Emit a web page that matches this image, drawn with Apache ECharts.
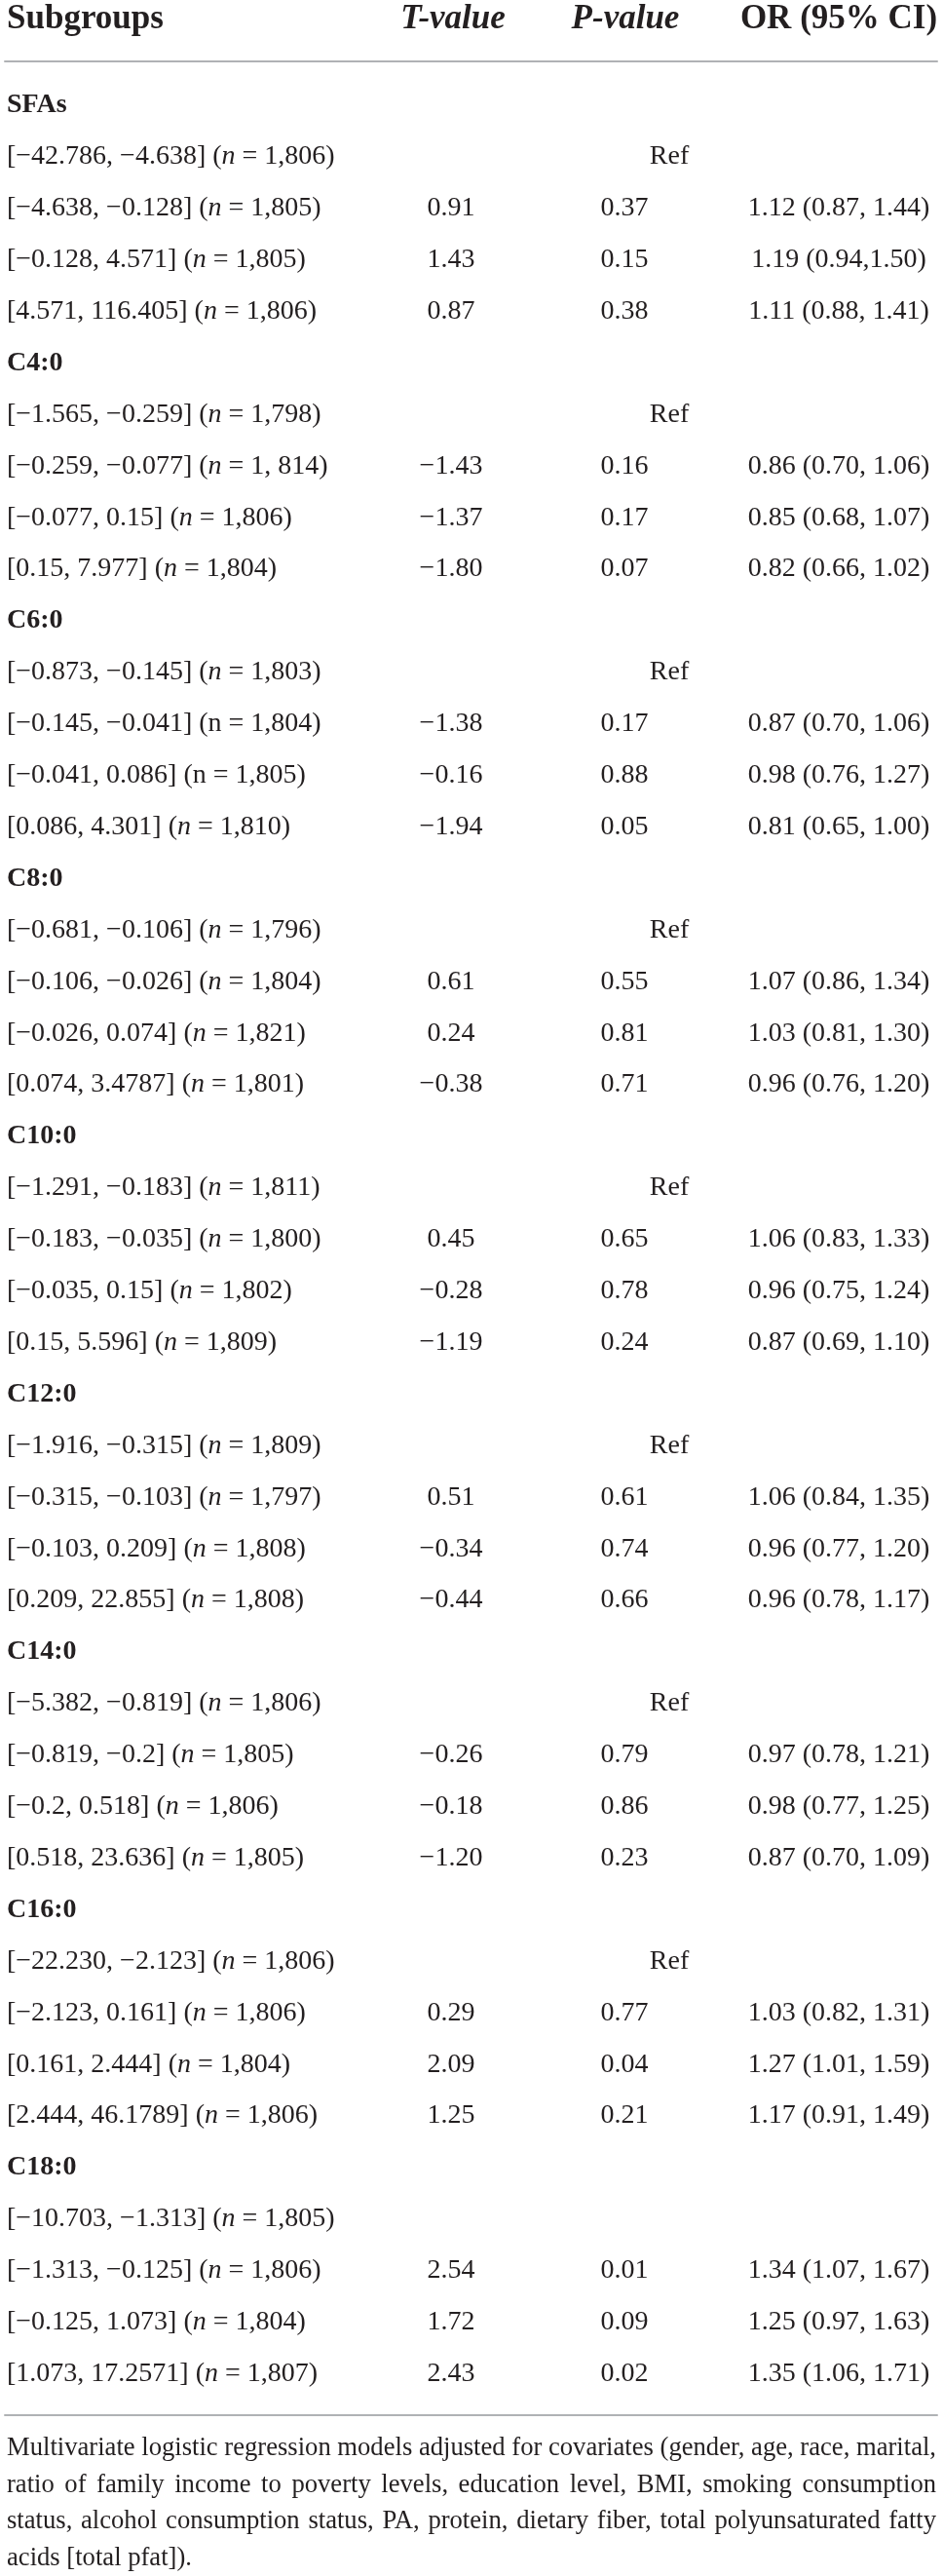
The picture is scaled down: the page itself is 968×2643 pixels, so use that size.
<!DOCTYPE html>
<html>
<head>
<meta charset="utf-8">
<script src="https://cdn.jsdelivr.net/npm/echarts@6/dist/echarts.min.js"></script>
<style>
html, body { margin: 0; padding: 0; background: #fff; }
#main { width: 968px; height: 2643px; }
</style>
</head>
<body>
<div id="main"></div>
<script>
// table content
var headers = ['Subgroups', 'T-value', 'P-value', 'OR (95% CI)'];
var groupNames = ['SFAs', 'C4:0', 'C6:0', 'C8:0', 'C10:0', 'C12:0', 'C14:0', 'C16:0', 'C18:0'];
var refMarks = ['Ref', 'Ref', 'Ref', 'Ref', 'Ref', 'Ref', 'Ref', 'Ref', ''];
var binRanges = [
    '[−42.786, −4.638]', '[−4.638, −0.128]', '[−0.128, 4.571]', '[4.571, 116.405]',
    '[−1.565, −0.259]', '[−0.259, −0.077]', '[−0.077, 0.15]', '[0.15, 7.977]',
    '[−0.873, −0.145]', '[−0.145, −0.041]', '[−0.041, 0.086]', '[0.086, 4.301]',
    '[−0.681, −0.106]', '[−0.106, −0.026]', '[−0.026, 0.074]', '[0.074, 3.4787]',
    '[−1.291, −0.183]', '[−0.183, −0.035]', '[−0.035, 0.15]', '[0.15, 5.596]',
    '[−1.916, −0.315]', '[−0.315, −0.103]', '[−0.103, 0.209]', '[0.209, 22.855]',
    '[−5.382, −0.819]', '[−0.819, −0.2]', '[−0.2, 0.518]', '[0.518, 23.636]',
    '[−22.230, −2.123]', '[−2.123, 0.161]', '[0.161, 2.444]', '[2.444, 46.1789]',
    '[−10.703, −1.313]', '[−1.313, −0.125]', '[−0.125, 1.073]', '[1.073, 17.2571]'
];
var binCounts = [
    '1,806', '1,805', '1,805', '1,806',
    '1,798', '1, 814', '1,806', '1,804',
    '1,803', '1,804', '1,805', '1,810',
    '1,796', '1,804', '1,821', '1,801',
    '1,811', '1,800', '1,802', '1,809',
    '1,809', '1,797', '1,808', '1,808',
    '1,806', '1,805', '1,806', '1,805',
    '1,806', '1,806', '1,804', '1,806',
    '1,805', '1,806', '1,804', '1,807'
];
var uprightN = [9, 10];      // rows printed with a roman "n"
var ciNoSpace = [2];         // "(0.94,1.50)" printed without a space
var tValues = [null, 0.91, 1.43, 0.87, null, -1.43, -1.37, -1.80, null, -1.38, -0.16, -1.94,
    null, 0.61, 0.24, -0.38, null, 0.45, -0.28, -1.19, null, 0.51, -0.34, -0.44,
    null, -0.26, -0.18, -1.20, null, 0.29, 2.09, 1.25, null, 2.54, 1.72, 2.43];
var pValues = [null, 0.37, 0.15, 0.38, null, 0.16, 0.17, 0.07, null, 0.17, 0.88, 0.05,
    null, 0.55, 0.81, 0.71, null, 0.65, 0.78, 0.24, null, 0.61, 0.74, 0.66,
    null, 0.79, 0.86, 0.23, null, 0.77, 0.04, 0.21, null, 0.01, 0.09, 0.02];
var orValues = [null, 1.12, 1.19, 1.11, null, 0.86, 0.85, 0.82, null, 0.87, 0.98, 0.81,
    null, 1.07, 1.03, 0.96, null, 1.06, 0.96, 0.87, null, 1.06, 0.96, 0.96,
    null, 0.97, 0.98, 0.87, null, 1.03, 1.27, 1.17, null, 1.34, 1.25, 1.35];
var ciLower = [null, 0.87, 0.94, 0.88, null, 0.70, 0.68, 0.66, null, 0.70, 0.76, 0.65,
    null, 0.86, 0.81, 0.76, null, 0.83, 0.75, 0.69, null, 0.84, 0.77, 0.78,
    null, 0.78, 0.77, 0.70, null, 0.82, 1.01, 0.91, null, 1.07, 0.97, 1.06];
var ciUpper = [null, 1.44, 1.50, 1.41, null, 1.06, 1.07, 1.02, null, 1.06, 1.27, 1.00,
    null, 1.34, 1.30, 1.20, null, 1.33, 1.24, 1.10, null, 1.35, 1.20, 1.17,
    null, 1.21, 1.25, 1.09, null, 1.31, 1.59, 1.49, null, 1.67, 1.63, 1.71];
var footnoteLines = [
    'Multivariate logistic regression models adjusted for covariates (gender, age, race, marital,',
    'ratio of family income to poverty levels, education level, BMI, smoking consumption',
    'status, alcohol consumption status, PA, protein, dietary fiber, total polyunsaturated fatty',
    'acids [total pfat]).'
];

var FONT = 'Liberation Serif';
var INK = '#231f20';
var RULE = '#b0b2b5';
var W = 968;

// column anchors (x in px)
var colLabel = 7, colT = 463, colP = 641, colOR = 861, colRef = 687;

function fmt(v) {
    return (v < 0 ? '−' : '') + Math.abs(v).toFixed(2);
}

// build rows and cells
var rows = [];
var cells = [];
groupNames.forEach(function (g, gi) {
    var r = rows.length;
    rows.push(String(r));
    cells.push({ x: colLabel, row: r, text: g, align: 'left', bold: true });
    for (var k = 0; k < 4; k++) {
        var i = gi * 4 + k;
        r = rows.length;
        rows.push(String(r));
        var nTag = uprightN.indexOf(i) >= 0 ? 'r' : 'i';
        cells.push({
            x: colLabel, row: r, align: 'left', rich: true,
            text: '{r|' + binRanges[i] + ' (}{' + nTag + '|n}{r| = ' + binCounts[i] + ')}'
        });
        if (tValues[i] === null) {
            if (refMarks[gi]) cells.push({ x: colRef, row: r, text: refMarks[gi], align: 'center' });
        } else {
            var sep = ciNoSpace.indexOf(i) >= 0 ? ',' : ', ';
            cells.push({ x: colT, row: r, text: fmt(tValues[i]), align: 'center' });
            cells.push({ x: colP, row: r, text: fmt(pValues[i]), align: 'center' });
            cells.push({
                x: colOR, row: r, align: 'center',
                text: fmt(orValues[i]) + ' (' + fmt(ciLower[i]) + sep + fmt(ciUpper[i]) + ')'
            });
        }
    }
});

var richStyles = {
    r: { fontFamily: FONT, fontSize: 28, fill: INK },
    i: { fontFamily: FONT, fontSize: 28, fontStyle: 'italic', fill: INK }
};

function renderCell(params, api) {
    var c = cells[params.dataIndex];
    var p = api.coord([api.value(0), api.value(1)]);
    var style = {
        text: c.text, x: p[0], y: p[1], fill: INK,
        align: c.align, verticalAlign: 'middle',
        fontFamily: FONT, fontSize: 28, fontWeight: c.bold ? 'bold' : 'normal'
    };
    if (c.rich) style.rich = richStyles;
    return { type: 'text', style: style };
}

// layout of the row band
var firstRowY = 108, rowStep = 52.9;
var gridTop = firstRowY - rowStep / 2;
var gridBottom = 2643 - (gridTop + rows.length * rowStep);

// header texts
var graphics = [];
var headX = [7, 465, 642, 861];
headers.forEach(function (h, j) {
    graphics.push({
        type: 'text', x: headX[j], y: 20,
        style: {
            text: h, fill: INK, fontFamily: FONT, fontSize: 35, fontWeight: 'bold',
            fontStyle: (j === 1 || j === 2) ? 'italic' : 'normal',
            align: j === 0 ? 'left' : 'center', verticalAlign: 'middle'
        }
    });
});

// justified footnote
var fnSize = 27, fnLeft = 7, fnRight = 961, fnTop = 2512, fnStep = 37.7;
var ctx = document.createElement('canvas').getContext('2d');
ctx.font = fnSize + 'px "' + FONT + '"';
var spaceW = ctx.measureText(' ').width;
var natural = ctx.measureText(footnoteLines[0]).width;
var sx = Math.min(1, (fnRight - fnLeft) / natural);
footnoteLines.forEach(function (line, li) {
    var words = line.split(' ');
    var widths = words.map(function (w) { return ctx.measureText(w).width * sx; });
    var total = widths.reduce(function (a, b) { return a + b; }, 0);
    var gap = li < footnoteLines.length - 1 ?
        (fnRight - fnLeft - total) / (words.length - 1) : spaceW * sx;
    var x = fnLeft;
    words.forEach(function (w, wi) {
        graphics.push({
            type: 'text', x: x, y: fnTop + li * fnStep, scaleX: sx,
            style: {
                text: w, fill: INK, fontFamily: FONT, fontSize: fnSize,
                align: 'left', verticalAlign: 'middle'
            }
        });
        x += widths[wi] + gap;
    });
});

var myChart = echarts.init(document.getElementById('main'));
var option = {
    backgroundColor: '#ffffff',
    animation: false,
    grid: { left: 5, right: W - 962, top: gridTop, bottom: gridBottom },
    xAxis: [{
        type: 'value', min: 5, max: 962, position: 'top', offset: gridTop - 63,
        axisLine: { show: true, lineStyle: { color: RULE, width: 2 } },
        axisTick: { show: false }, axisLabel: { show: false }, splitLine: { show: false }
    }, {
        type: 'value', min: 5, max: 962, position: 'bottom', offset: 2478 - (2643 - gridBottom),
        axisLine: { show: true, lineStyle: { color: RULE, width: 2 } },
        axisTick: { show: false }, axisLabel: { show: false }, splitLine: { show: false }
    }],
    yAxis: {
        type: 'category', data: rows, inverse: true, show: false
    },
    graphic: graphics,
    series: [{
        type: 'custom',
        xAxisIndex: 0,
        renderItem: renderCell,
        encode: { x: 0, y: 1 },
        data: cells.map(function (c) { return [c.x, c.row]; })
    }]
};
myChart.setOption(option);
window.addEventListener('resize', function () {
    myChart.resize();
});
</script>
</body>
</html>
